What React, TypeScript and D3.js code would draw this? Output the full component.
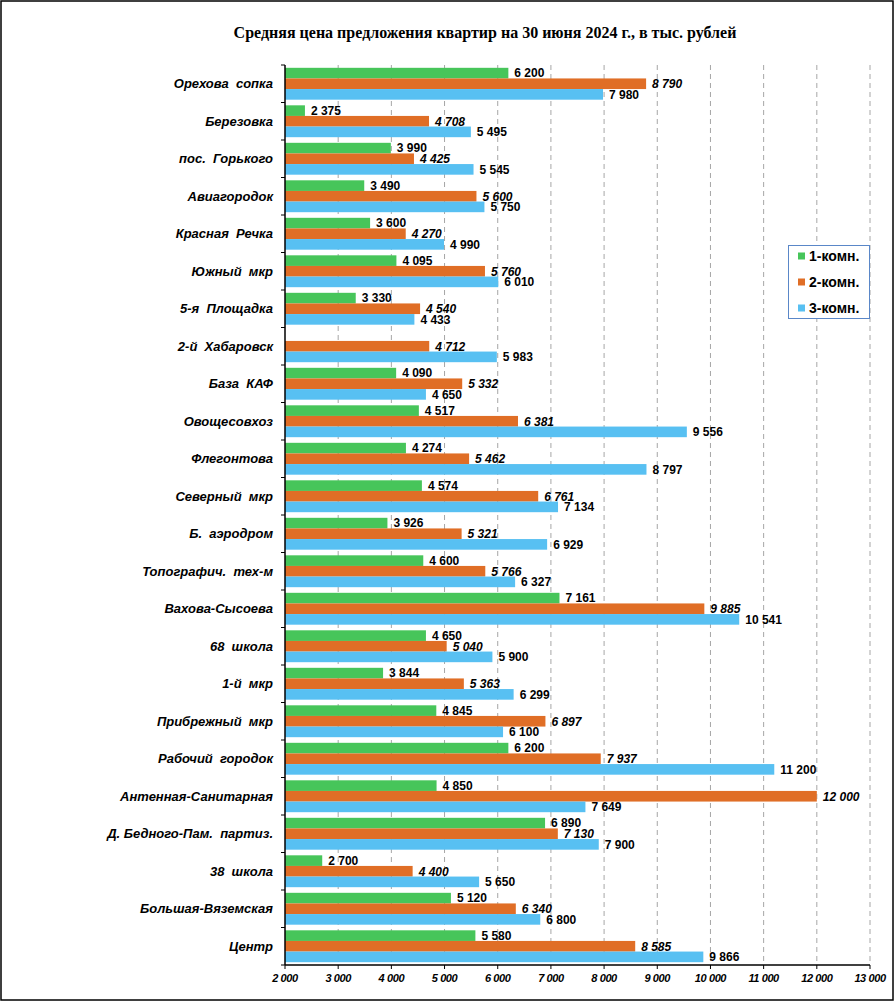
import React, { useEffect, useRef } from "react";
import * as d3 from "d3";

const categories = [
  "Орехова  сопка",
  "Березовка",
  "пос.  Горького",
  "Авиагородок",
  "Красная  Речка",
  "Южный  мкр",
  "5-я  Площадка",
  "2-й  Хабаровск",
  "База  КАФ",
  "Овощесовхоз",
  "Флегонтова",
  "Северный  мкр",
  "Б.  аэродром",
  "Топографич.  тех-м",
  "Вахова-Сысоева",
  "68  школа",
  "1-й  мкр",
  "Прибрежный  мкр",
  "Рабочий  городок",
  "Антенная-Санитарная",
  "Д. Бедного-Пам.  партиз.",
  "38  школа",
  "Большая-Вяземская",
  "Центр",
];

const room1: (number | null)[] = [6200, 2375, 3990, 3490, 3600, 4095, 3330, null, 4090, 4517, 4274, 4574, 3926, 4600, 7161, 4650, 3844, 4845, 6200, 4850, 6890, 2700, 5120, 5580];
const room2: (number | null)[] = [8790, 4708, 4425, 5600, 4270, 5760, 4540, 4712, 5332, 6381, 5462, 6761, 5321, 5766, 9885, 5040, 5363, 6897, 7937, 12000, 7130, 4400, 6340, 8585];
const room3: (number | null)[] = [7980, 5495, 5545, 5750, 4990, 6010, 4433, 5983, 4650, 9556, 8797, 7134, 6929, 6327, 10541, 5900, 6299, 6100, 11200, 7649, 7900, 5650, 6800, 9866];

const seriesNames = ["1-комн.", "2-комн.", "3-комн."];
const seriesColors = ["#47C55A", "#E06E26", "#58C0F2"];
const xTicks = [2000, 3000, 4000, 5000, 6000, 7000, 8000, 9000, 10000, 11000, 12000, 13000];
const title = "Средняя цена предложения квартир на 30 июня 2024 г., в тыс. рублей";

const fmt = (v: number) => d3.format(",")(v).replace(/,/g, " ");

export default function App() {
  const ref = useRef<SVGSVGElement>(null);

  useEffect(() => {
    const svg = d3.select(ref.current);
    svg.selectAll("*").remove();
    const W = 895, H = 1003;
    const left = 285, right = 870, top = 65, bottom = 965;

    svg.append("rect").attr("x", 0).attr("y", 0).attr("width", W).attr("height", H).attr("fill", "#fff");
    svg.append("rect").attr("x", 1).attr("y", 1).attr("width", 892).attr("height", 999)
      .attr("fill", "none").attr("stroke", "#000").attr("stroke-width", 1.5);

    svg.append("text").attr("x", 485).attr("y", 38).attr("text-anchor", "middle")
      .attr("font-family", "'Liberation Serif', 'Times New Roman', serif").attr("font-weight", "bold")
      .attr("font-size", 16).text(title);

    const x = d3.scaleLinear().domain([2000, 13000]).range([left, right]);
    const y = d3.scaleBand<string>().domain(categories).range([top, bottom]).paddingInner(0).paddingOuter(0);
    const bw = y.bandwidth();
    const groupPad = bw * 0.075;
    const sub = d3.scaleBand<number>().domain([0, 1, 2]).range([groupPad, bw - groupPad]);

    // grid
    svg.append("g").selectAll("line").data(xTicks.slice(1)).join("line")
      .attr("x1", (d) => x(d)).attr("x2", (d) => x(d)).attr("y1", top).attr("y2", bottom)
      .attr("stroke", "#A6A6A6").attr("stroke-width", 1).attr("stroke-dasharray", "5,4");

    const series = [room1, room2, room3];
    series.forEach((vals, si) => {
      const g = svg.append("g");
      const data = categories.map((c, i) => ({ c, v: vals[i] })).filter((d) => d.v != null) as { c: string; v: number }[];
      g.selectAll("rect").data(data).join("rect")
        .attr("x", x(2000))
        .attr("y", (d) => (y(d.c) as number) + (sub(si) as number))
        .attr("width", (d) => x(d.v) - x(2000))
        .attr("height", sub.bandwidth())
        .attr("fill", seriesColors[si]);
      g.selectAll("text").data(data).join("text")
        .attr("x", (d) => x(d.v) + 6)
        .attr("y", (d) => (y(d.c) as number) + (sub(si) as number) + sub.bandwidth() / 2)
        .attr("dy", "0.36em")
        .attr("font-family", "'Liberation Sans', Arial, sans-serif")
        .attr("font-weight", "bold")
        .attr("font-style", si === 1 ? "italic" : "normal")
        .attr("font-size", 12)
        .attr("fill", "#000")
        .text((d) => fmt(d.v));
    });

    // left axis
    const la = svg.append("g");
    la.append("line").attr("x1", left).attr("x2", left).attr("y1", top).attr("y2", bottom).attr("stroke", "#000").attr("stroke-width", 1.5);
    const bounds = d3.range(categories.length + 1).map((i) => top + i * bw);
    la.selectAll("line.t").data(bounds).join("line").attr("class", "t")
      .attr("x1", left - 4).attr("x2", left).attr("y1", (d) => d).attr("y2", (d) => d)
      .attr("stroke", "#000").attr("stroke-width", 1);
    la.selectAll("text").data(categories).join("text")
      .attr("x", 273).attr("y", (d) => (y(d) as number) + bw / 2).attr("dy", "0.36em")
      .attr("text-anchor", "end")
      .attr("font-family", "'Liberation Sans', Arial, sans-serif")
      .attr("font-weight", "bold").attr("font-style", "italic").attr("font-size", 13)
      .style("white-space", "pre")
      .text((d) => d);

    // bottom axis
    const ba = svg.append("g");
    ba.append("line").attr("x1", left).attr("x2", right).attr("y1", bottom).attr("y2", bottom).attr("stroke", "#000").attr("stroke-width", 1.5);
    ba.selectAll("line.t").data(xTicks).join("line").attr("class", "t")
      .attr("x1", (d) => x(d)).attr("x2", (d) => x(d)).attr("y1", bottom).attr("y2", bottom + 4)
      .attr("stroke", "#000");
    ba.selectAll("text").data(xTicks).join("text")
      .attr("x", (d) => x(d)).attr("y", bottom + 17).attr("text-anchor", "middle")
      .attr("font-family", "'Liberation Sans', Arial, sans-serif")
      .attr("font-weight", "bold").attr("font-style", "italic").attr("font-size", 11)
      .attr("letter-spacing", -0.4)
      .text((d) => fmt(d));

    // legend
    const lg = svg.append("g");
    lg.append("rect").attr("x", 788.5).attr("y", 245.5).attr("width", 81).attr("height", 73)
      .attr("fill", "#fff").attr("stroke", "#5A87C8").attr("stroke-width", 1);
    seriesNames.forEach((n, i) => {
      const cy = 256 + i * 26;
      lg.append("rect").attr("x", 798).attr("y", cy - 3.5).attr("width", 7).attr("height", 7).attr("fill", seriesColors[i]);
      lg.append("text").attr("x", 809).attr("y", cy).attr("dy", "0.36em")
        .attr("font-family", "'Liberation Sans', Arial, sans-serif")
        .attr("font-weight", "bold").attr("font-size", 14).text(n);
    });
  }, []);

  return (
    <svg ref={ref} width={895} height={1003} style={{ position: "absolute", left: 0, top: 0 }} />
  );
}
